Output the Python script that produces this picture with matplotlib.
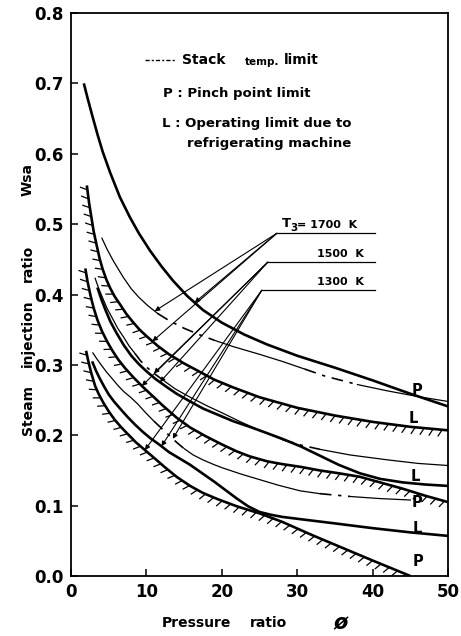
import numpy as np
import matplotlib
matplotlib.use("Agg")
import matplotlib.pyplot as plt
from matplotlib.collections import LineCollection

plt.rcParams["font.family"] = ["DejaVu Sans"]
plt.rcParams["font.weight"] = "bold"

# pressure ratio / steam injection ratio, T3 = 1700 K
p1700_x = [1.7, 2.2, 2.8, 3.5, 4.2, 5.2, 6.5, 7.8, 9.0, 10.5, 12.0, 13.5, 15.4, 17.5, 20.0, 23.0,
           26.0, 30.0, 35.0, 40.0, 45.0, 50.0]
p1700_y = [0.700, 0.679, 0.655, 0.628, 0.603, 0.573, 0.538, 0.510, 0.487, 0.462, 0.440, 0.420, 0.398,
           0.378, 0.360, 0.343, 0.329, 0.313, 0.296, 0.278, 0.259, 0.241]
s1700_x = [4.1, 4.8, 5.6, 6.9, 8.0, 9.0, 10.2, 11.5, 13.0, 15.0, 17.0, 19.0, 21.5, 25.0, 28.0, 31.0,
           33.7, 38.0, 42.0, 46.0, 50.0]
s1700_y = [0.480, 0.464, 0.448, 0.425, 0.408, 0.396, 0.384, 0.373, 0.363, 0.352, 0.343, 0.335, 0.326,
           0.315, 0.305, 0.294, 0.284, 0.272, 0.263, 0.255, 0.248]
l1700_x = [2.1, 2.4, 2.7, 3.0, 3.4, 3.8, 4.2, 4.7, 5.2, 5.8, 6.5, 7.3, 8.2, 9.1, 10.1, 11.5, 13.0,
           15.0, 17.1, 19.0, 21.5, 25.0, 30.0, 35.0, 40.0, 45.0, 50.0]
l1700_y = [0.555, 0.530, 0.510, 0.490, 0.470, 0.451, 0.436, 0.421, 0.409, 0.397, 0.386, 0.373, 0.361,
           0.350, 0.340, 0.327, 0.315, 0.302, 0.290, 0.279, 0.268, 0.254, 0.239, 0.228, 0.219, 0.212, 0.207]

# T3 = 1500 K
s1500_x = [3.2, 3.7, 4.2, 4.8, 5.5, 6.2, 7.0, 7.7, 8.5, 9.2, 10.0, 11.0, 12.0, 13.8, 15.8, 18.0,
           20.0, 22.5, 25.0, 28.0, 30.5, 33.0, 37.0, 42.0, 46.0, 50.0]
s1500_y = [0.423, 0.408, 0.395, 0.380, 0.366, 0.352, 0.339, 0.327, 0.316, 0.306, 0.297, 0.288, 0.280,
           0.266, 0.254, 0.242, 0.232, 0.219, 0.207, 0.194, 0.186, 0.180, 0.172, 0.165, 0.160, 0.157]
l1500_x = [3.5, 4.0, 4.5, 5.2, 6.0, 7.0, 8.0, 9.0, 10.0, 11.2, 12.5, 14.0, 15.8, 17.5, 19.5, 21.5,
           23.7, 26.0, 28.0, 30.5, 33.0, 35.5, 38.3, 41.0, 44.0, 47.0, 50.0]
l1500_y = [0.410, 0.394, 0.380, 0.362, 0.346, 0.328, 0.313, 0.301, 0.291, 0.280, 0.270, 0.259, 0.248,
           0.238, 0.229, 0.220, 0.212, 0.203, 0.195, 0.184, 0.171, 0.158, 0.146, 0.138, 0.133, 0.130, 0.128]
p1500_x = [1.9, 2.2, 2.6, 3.0, 3.5, 4.1, 4.8, 5.5, 6.3, 7.2, 8.3, 9.5, 10.8, 12.2, 14.0, 15.8, 17.8,
           20.0, 22.0, 23.7, 26.0, 28.0, 30.5, 33.0, 35.5, 38.3, 41.0, 44.0, 47.0, 50.0]
p1500_y = [0.437, 0.418, 0.398, 0.381, 0.364, 0.348, 0.333, 0.320, 0.307, 0.295, 0.282, 0.269, 0.256,
           0.242, 0.225, 0.211, 0.199, 0.187, 0.177, 0.170, 0.163, 0.159, 0.155, 0.150, 0.146, 0.141,
           0.133, 0.124, 0.114, 0.105]

# T3 = 1300 K
s1300_x = [2.9, 3.4, 4.0, 4.7, 5.5, 6.2, 7.0, 7.9, 8.8, 9.9, 11.0, 12.0, 13.0, 14.0, 15.0, 16.2,
           17.5, 18.8, 20.0, 22.5, 25.0, 27.5, 30.4, 33.0, 37.0, 41.0, 45.0]
s1300_y = [0.317, 0.309, 0.300, 0.290, 0.280, 0.271, 0.262, 0.254, 0.245, 0.232, 0.220, 0.210, 0.200,
           0.190, 0.181, 0.172, 0.165, 0.159, 0.154, 0.145, 0.137, 0.129, 0.121, 0.117, 0.113, 0.110, 0.108]
l1300_x = [2.8, 3.3, 3.8, 4.4, 5.0, 5.7, 6.5, 7.5, 8.5, 9.5, 10.5, 11.8, 13.0, 14.4, 15.8, 17.4,
           19.0, 20.5, 22.0, 23.5, 25.0, 26.5, 28.0, 31.0, 34.8, 40.0, 45.0, 50.0]
l1300_y = [0.305, 0.292, 0.281, 0.269, 0.258, 0.248, 0.238, 0.226, 0.215, 0.205, 0.196, 0.186, 0.176,
           0.167, 0.158, 0.146, 0.134, 0.122, 0.110, 0.099, 0.091, 0.087, 0.084, 0.080, 0.075, 0.068,
           0.062, 0.057]
p1300_x = [2.0, 2.3, 2.7, 3.2, 3.7, 4.3, 5.0, 5.8, 6.6, 7.5, 8.6, 9.8, 11.0, 12.4, 14.0, 15.8, 17.5,
           19.5, 22.0, 25.0, 28.0, 32.0, 36.0, 40.0, 45.0]
p1300_y = [0.320, 0.305, 0.288, 0.270, 0.258, 0.246, 0.234, 0.222, 0.212, 0.202, 0.190, 0.179, 0.168,
           0.155, 0.141, 0.128, 0.118, 0.109, 0.099, 0.089, 0.077, 0.058, 0.040, 0.022, 0.000]

# stretches of the stack lines drawn dash-dot (x from, x to)
s1700_dash = [(11.5, 19.0), (31.0, 38.0)]
s1500_dash = [(8.5, 12.0), (28.0, 33.0)]
s1300_dash = [(11.0, 15.0), (33.0, 37.0)]

# temperature labels and the corner of each leader
t3_labels = ["1700", "1500", "1300"]
t3_corner_x = [27.3, 26.1, 25.3]
t3_corner_y = [0.487, 0.446, 0.406]

fig = plt.figure(figsize=(4.61, 6.36), dpi=100)
ax = fig.add_axes([71 / 461, 60 / 636, 377 / 461, 563 / 636])
ax.set_xlim(0, 50)
ax.set_ylim(0, 0.8)

THICK = 1.9
THIN = 0.9


def hatch_curve(xs, ys, spacing=9.0, length=8.0, tilt=28.0, lw=0.9):
    pts = ax.transData.transform(np.column_stack([xs, ys]))
    d = np.diff(pts, axis=0)
    seglen = np.hypot(d[:, 0], d[:, 1])
    s = np.concatenate([[0], np.cumsum(seglen)])
    ss = np.arange(spacing * 0.5, s[-1], spacing)
    idx = np.clip(np.searchsorted(s, ss) - 1, 0, len(d) - 1)
    base = np.column_stack([np.interp(ss, s, pts[:, 0]), np.interp(ss, s, pts[:, 1])])
    t = d[idx] / seglen[idx, None]
    n = np.column_stack([t[:, 1], -t[:, 0]])
    a = np.radians(tilt)
    v = np.cos(a) * n - np.sin(a) * t
    inv = ax.transData.inverted()
    segs = np.stack([inv.transform(base), inv.transform(base + length * v)], axis=1)
    ax.add_collection(LineCollection(segs, colors="k", linewidths=lw))


def stack_line(xs, ys, dashes):
    xs = np.asarray(xs)
    ys = np.asarray(ys)
    cuts = sorted({xs[0], xs[-1], *[v for span in dashes for v in span]})
    for a, b in zip(cuts[:-1], cuts[1:]):
        m = (xs >= a) & (xs <= b)
        dashed = any(abs(a - lo) < 1e-9 and abs(b - hi) < 1e-9 for lo, hi in dashes)
        if dashed:
            ax.plot(xs[m], ys[m], color="k", lw=THIN + 0.3, dashes=(7, 4, 2, 4))
        else:
            ax.plot(xs[m], ys[m], color="k", lw=THIN, solid_joinstyle="round")


# limit curves
for cx, cy in [(p1700_x, p1700_y), (l1700_x, l1700_y), (l1500_x, l1500_y),
               (p1500_x, p1500_y), (l1300_x, l1300_y), (p1300_x, p1300_y)]:
    ax.plot(cx, cy, color="k", lw=THICK, solid_capstyle="butt", solid_joinstyle="round")
for cx, cy in [(l1700_x, l1700_y), (p1500_x, p1500_y), (p1300_x, p1300_y)]:
    hatch_curve(cx, cy)

stack_line(s1700_x, s1700_y, s1700_dash)
stack_line(s1500_x, s1500_y, s1500_dash)
stack_line(s1300_x, s1300_y, s1300_dash)

# leader lines from the temperature labels
curves = {
    "p1700": (p1700_x, p1700_y), "s1700": (s1700_x, s1700_y), "l1700": (l1700_x, l1700_y),
    "s1500": (s1500_x, s1500_y), "l1500": (l1500_x, l1500_y), "p1500": (p1500_x, p1500_y),
    "s1300": (s1300_x, s1300_y), "l1300": (l1300_x, l1300_y), "p1300": (p1300_x, p1300_y),
}
arrow_tips = [
    [("p1700", 16.4), ("s1700", 11.1), ("l1700", 10.8)],
    [("s1500", 11.0), ("l1500", 11.8), ("p1500", 9.4)],
    [("s1300", 13.5), ("l1300", 12.0), ("p1300", 9.8)],
]
for cx, cy, tips in zip(t3_corner_x, t3_corner_y, arrow_tips):
    ax.plot([cx, 40.3], [cy, cy], color="k", lw=0.9)
    for name, tx in tips:
        xs, ys = curves[name]
        ty = np.interp(tx, xs, ys)
        ax.annotate("", xy=(tx, ty), xytext=(cx, cy),
                    arrowprops=dict(arrowstyle="-|>", lw=0.8, color="k",
                                    mutation_scale=7, shrinkA=0, shrinkB=0))

ax.text(28.0, t3_corner_y[0] + 0.005, "T", fontsize=9.5, ha="left", va="bottom")
ax.text(29.1, t3_corner_y[0] + 0.001, "3", fontsize=7.5, ha="left", va="bottom")
ax.text(30.0, t3_corner_y[0] + 0.005, "= 1700  K", fontsize=8, ha="left", va="bottom")
ax.text(38.9, t3_corner_y[1] + 0.005, "1500  K", fontsize=8, ha="right", va="bottom")
ax.text(38.9, t3_corner_y[2] + 0.005, "1300  K", fontsize=8, ha="right", va="bottom")

# end labels of the limit curves
end_labels = ["P", "L", "L", "P", "L", "P"]
end_x = [45.9, 45.4, 45.6, 45.9, 45.9, 46.0]
end_y = [0.264, 0.224, 0.141, 0.104, 0.068, 0.020]
for lab, lx, ly in zip(end_labels, end_x, end_y):
    ax.text(lx, ly, lab, fontsize=10.5, ha="center", va="center")

# key
ax.plot([9.8, 13.8], [0.733, 0.733], color="k", lw=1.0, dashes=(3, 1.5, 1.5, 1.5))
ax.text(14.7, 0.733, "Stack", fontsize=10, va="center")
ax.text(23.0, 0.731, "temp.", fontsize=7.5, va="center")
ax.text(28.2, 0.733, "limit", fontsize=10, va="center")
ax.text(12.2, 0.686, "P : Pinch point limit", fontsize=9.5, va="center")
ax.text(12.1, 0.643, "L : Operating limit due to", fontsize=9.5, va="center")
ax.text(15.4, 0.615, "refrigerating machine", fontsize=9.5, va="center")

# axes
for sp in ax.spines.values():
    sp.set_linewidth(1.3)
ax.set_xticks([0, 10, 20, 30, 40, 50])
ax.set_yticks(np.arange(0, 0.81, 0.1))
ax.set_yticklabels([f"{v:.1f}" for v in np.arange(0, 0.81, 0.1)])
ax.tick_params(direction="in", length=5, width=1.1, pad=5, labelsize=12)

for word, ypx in [("Steam", 410), ("injection", 333), ("ratio", 263), ("Wsa", 180)]:
    fig.text(28 / 461, 1 - ypx / 636, word, rotation=90, ha="center", va="center", fontsize=10)
fig.text(196 / 461, 1 - 623 / 636, "Pressure", ha="center", va="center", fontsize=10)
fig.text(268 / 461, 1 - 623 / 636, "ratio", ha="center", va="center", fontsize=10)
fig.text(341 / 461, 1 - 623 / 636, "ø", ha="center", va="center", fontsize=15, style="italic")

fig.savefig("out.png", dpi=100)
